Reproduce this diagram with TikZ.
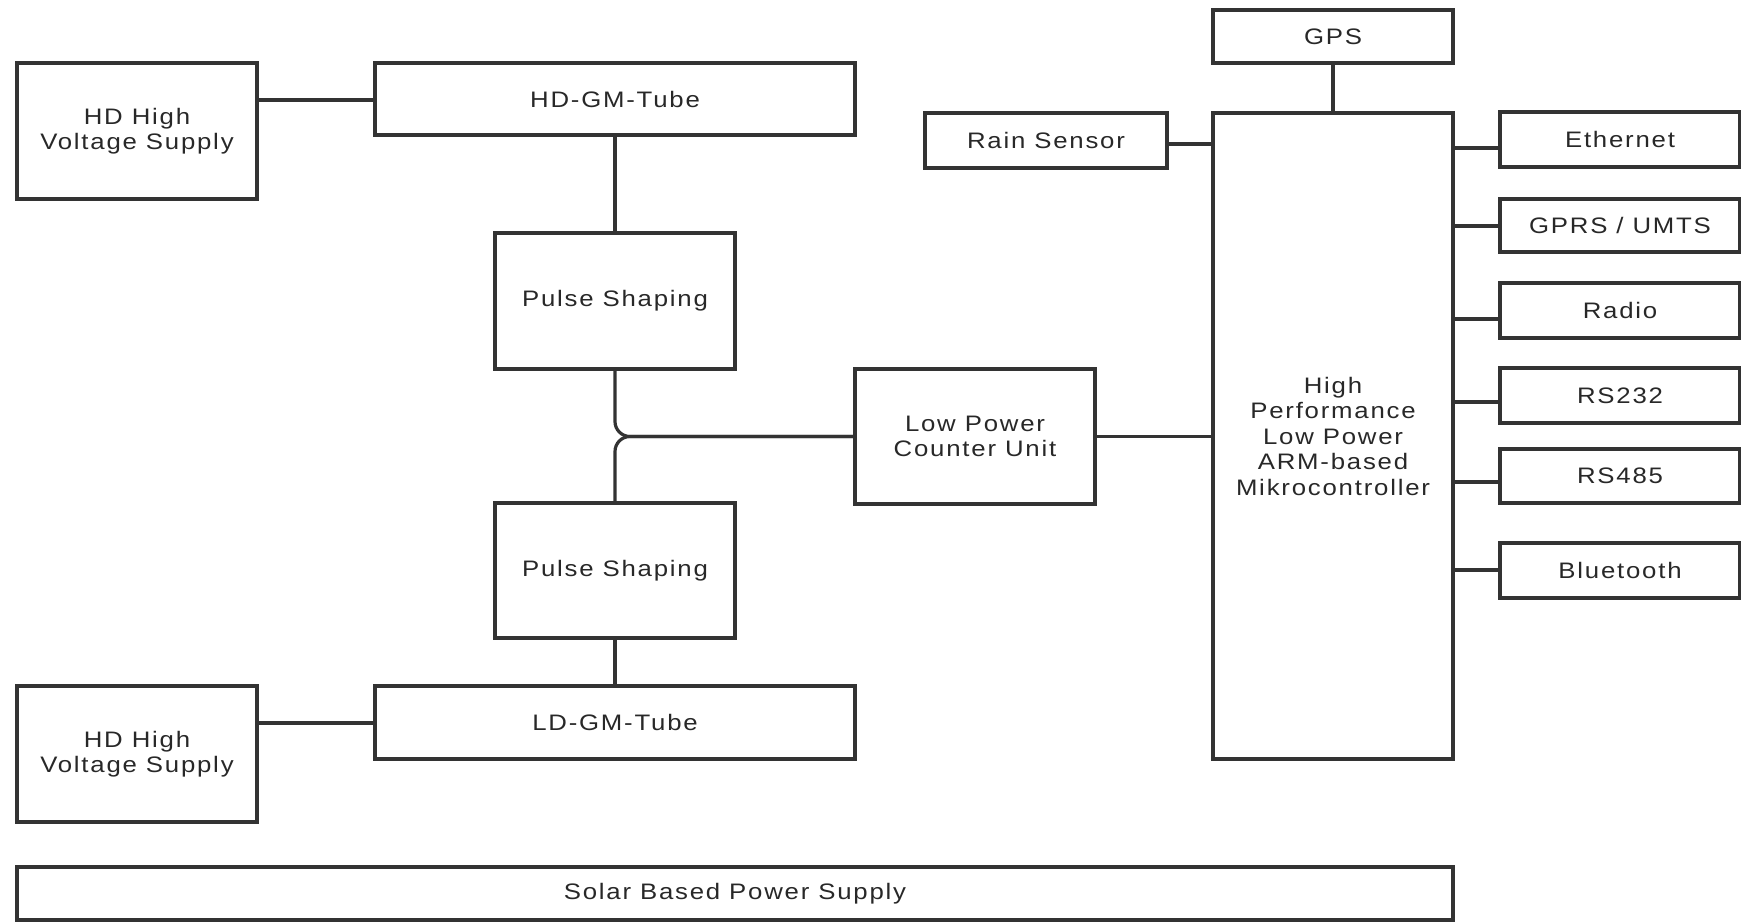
\documentclass[tikz,border=0pt]{standalone}
\usepackage{fontspec}
\setmainfont{Liberation Sans}[FakeStretch=1.15, LetterSpace=8]
\definecolor{ln}{RGB}{51,51,51}
\definecolor{tx}{RGB}{40,40,40}
\begin{document}
\begin{tikzpicture}[x=0.5pt,y=-0.5pt,
  box/.style={draw=ln, line width=1.6pt, inner sep=0pt, outer sep=0pt, align=center,
    font=\fontsize{11.2}{12.75}\selectfont, text=tx},
  wire/.style={draw=ln, line width=1.6pt}]
\useasboundingbox (0,0) rectangle (1741,923);
% left column
\node[box, minimum width=120pt, minimum height=68pt] (hv1) at (137,131) {HD High\\Voltage Supply};
\node[box, minimum width=240pt, minimum height=36pt] (hd) at (615,99) {HD-GM-Tube};
\node[box, minimum width=120pt, minimum height=68pt] (ps1) at (615,301) {Pulse Shaping};
\node[box, minimum width=120pt, minimum height=67.5pt] (ps2) at (615,570.5) {Pulse Shaping};
\node[box, minimum width=240pt, minimum height=36.5pt] (ld) at (615,722.5) {LD-GM-Tube};
\node[box, minimum width=120pt, minimum height=68pt] (hv2) at (137,754) {HD High\\Voltage Supply};
\node[box, minimum width=120pt, minimum height=67.5pt] (cnt) at (975,436.5) {Low Power\\Counter Unit};
% controller
\node[box, minimum width=120pt, minimum height=323pt] (mcu) at (1333,436) {High\\Performance\\Low Power\\ARM-based\\Mikrocontroller};
\node[box, minimum width=120pt, minimum height=26.5pt] (gps) at (1333,36.5) {GPS};
\node[box, minimum width=121pt, minimum height=27.5pt] (rain) at (1046,140.5) {Rain Sensor};
% interfaces
\node[box, minimum width=120pt, minimum height=27.5pt] (eth) at (1620,139.5) {Ethernet};
\node[box, minimum width=120pt, minimum height=26.5pt] (gprs) at (1620,225.5) {GPRS / UMTS};
\node[box, minimum width=120pt, minimum height=27.5pt] (radio) at (1620,310.5) {Radio};
\node[box, minimum width=120pt, minimum height=27.5pt] (rs232) at (1620,395.5) {RS232};
\node[box, minimum width=120pt, minimum height=27pt] (rs485) at (1620,476) {RS485};
\node[box, minimum width=120pt, minimum height=27.5pt] (bt) at (1620,570.5) {Bluetooth};
% power
\node[box, minimum width=718pt, minimum height=26.5pt] (solar) at (735,893.5) {Solar Based Power Supply};
% connectors
\draw[wire] (hv1.east |- 0,100) -- (hd.west |- 0,100);
\draw[wire] (ps1.north) -- (ps1.north |- hd.south);
\draw[wire] (ps2.south) -- (ps2.south |- ld.north);
\draw[wire] (hv2.east |- 0,723) -- (ld.west |- 0,723);
\draw[wire, rounded corners=7.5pt] (ps1.south) |- (cnt.west);
\draw[wire, rounded corners=7.5pt] (ps2.north) |- (cnt.west);
\draw[wire] (cnt.east) -- (cnt.east -| mcu.west);
\draw[wire] (gps.south) -- (mcu.north);
\draw[wire] (rain.east |- 0,144) -- (mcu.west |- 0,144);
\draw[wire] (mcu.east |- 0,148) -- (eth.west |- 0,148);
\draw[wire] (mcu.east |- 0,226) -- (gprs.west |- 0,226);
\draw[wire] (mcu.east |- 0,319) -- (radio.west |- 0,319);
\draw[wire] (mcu.east |- 0,402) -- (rs232.west |- 0,402);
\draw[wire] (mcu.east |- 0,482) -- (rs485.west |- 0,482);
\draw[wire] (mcu.east |- 0,570) -- (bt.west |- 0,570);
\end{tikzpicture}
\end{document}
